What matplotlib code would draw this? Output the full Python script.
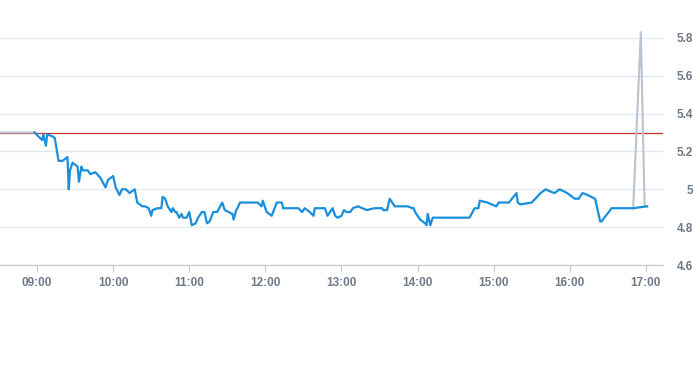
import matplotlib
matplotlib.use("Agg")
import matplotlib.pyplot as plt
import numpy as np

# minutes after 09:00 and price values (blue series)
minutes = [-2, 1, 4, 5, 7, 8, 12, 14, 17, 20, 24, 25, 26, 28, 32, 33, 35, 36, 40, 42,
           46, 50, 54, 56, 60, 62, 65, 67, 70, 73, 77, 79, 81, 83, 85, 88, 90, 91, 95, 98,
           99, 101, 103, 106, 107, 109, 110, 112, 114, 115, 118, 120, 122, 125, 127, 130, 132, 134, 136, 139,
           142, 146, 148, 151, 154, 155, 157, 158, 160, 174, 177, 178, 181, 185, 189, 193, 194, 206, 209, 211,
           215, 218, 219, 227, 229, 233, 235, 237, 240, 242, 244, 247, 249, 253, 260, 266, 272, 273, 276, 278,
           282, 292, 296, 297, 298, 302, 306, 307, 308, 310, 312, 341, 345, 348, 349, 355, 362, 364, 372, 378,
           379, 381, 390, 397, 401, 404, 408, 412, 418, 424, 427, 430, 434, 440, 444, 445, 453, 470, 481]
values = [5.30, 5.28, 5.26, 5.29, 5.23, 5.29, 5.28, 5.27, 5.15, 5.15, 5.17, 5.00, 5.10, 5.14, 5.12, 5.04, 5.12, 5.10, 5.10, 5.08,
          5.09, 5.06, 5.01, 5.05, 5.07, 5.01, 4.97, 5.00, 5.00, 4.98, 5.00, 4.93, 4.92, 4.91, 4.91, 4.90, 4.86, 4.89, 4.90, 4.90,
          4.96, 4.95, 4.91, 4.88, 4.90, 4.88, 4.88, 4.85, 4.87, 4.85, 4.85, 4.88, 4.81, 4.82, 4.85, 4.88, 4.88, 4.82, 4.83, 4.88,
          4.88, 4.93, 4.89, 4.88, 4.87, 4.84, 4.89, 4.90, 4.93, 4.93, 4.91, 4.94, 4.88, 4.86, 4.93, 4.93, 4.90, 4.90, 4.88, 4.90,
          4.88, 4.86, 4.90, 4.90, 4.86, 4.90, 4.86, 4.85, 4.86, 4.89, 4.88, 4.88, 4.90, 4.91, 4.89, 4.90, 4.90, 4.89, 4.89, 4.95,
          4.91, 4.91, 4.90, 4.90, 4.88, 4.84, 4.82, 4.81, 4.87, 4.81, 4.85, 4.85, 4.90, 4.90, 4.94, 4.93, 4.91, 4.93, 4.93, 4.98,
          4.93, 4.92, 4.93, 4.98, 5.00, 4.99, 4.98, 5.00, 4.98, 4.95, 4.95, 4.98, 4.97, 4.95, 4.83, 4.83, 4.90, 4.90, 4.91]

# gray series (visible parts): pre-open flat and the late spike
gray_minutes = [-30, -2, np.nan, 470, 476, 479, 481]
gray_values = [5.30, 5.30, np.nan, 4.90, 5.83, 4.91, 4.91]

ref_level = 5.30

tick_minutes = [0, 60, 120, 180, 240, 300, 360, 420, 480]
tick_labels = ["09:00", "10:00", "11:00", "12:00", "13:00", "14:00", "15:00", "16:00", "17:00"]
y_ticks = [4.6, 4.8, 5.0, 5.2, 5.4, 5.6, 5.8]
y_labels = ["4.6", "4.8", "5", "5.2", "5.4", "5.6", "5.8"]

W, H = 693, 365
fig = plt.figure(figsize=(W / 100, H / 100), dpi=100)
ax = fig.add_axes([0, 1 - 265 / H, 663 / W, 265 / H])

ax.set_xlim(-29.2, 493.5)
ax.set_ylim(4.6, 6.0)

ax.axhline(ref_level, color="#c23531", lw=0.9, zorder=2)
ax.plot(gray_minutes, gray_values, color="#b9c3d1", lw=1.5, zorder=3)
ax.plot(minutes, values, color="#1a8fdc", lw=1.6, zorder=4)

for s in ["top", "left", "right"]:
    ax.spines[s].set_visible(False)
ax.spines["bottom"].set_color("#c8ced8")
ax.spines["bottom"].set_linewidth(1)

ax.set_xticks(tick_minutes)
ax.set_xticklabels(tick_labels)
ax.set_yticks(y_ticks)
ax.set_yticklabels(y_labels)
ax.yaxis.tick_right()
ax.grid(axis="y", color="#e3e7ee", lw=0.9)
ax.set_axisbelow(True)

ax.tick_params(axis="x", length=5, width=0.9, color="#c8ced8", labelsize=8.5,
               labelcolor="#6e7a8a", pad=4)
ax.tick_params(axis="y", length=0, labelsize=8.5, labelcolor="#6e7a8a", pad=30 * 0.72)
for lab in ax.get_yticklabels():
    lab.set_ha("right")
for lab in ax.get_xticklabels() + ax.get_yticklabels():
    lab.set_fontfamily("Liberation Sans")
    lab.set_fontweight("bold")

fig.savefig("out.png", dpi=100)
